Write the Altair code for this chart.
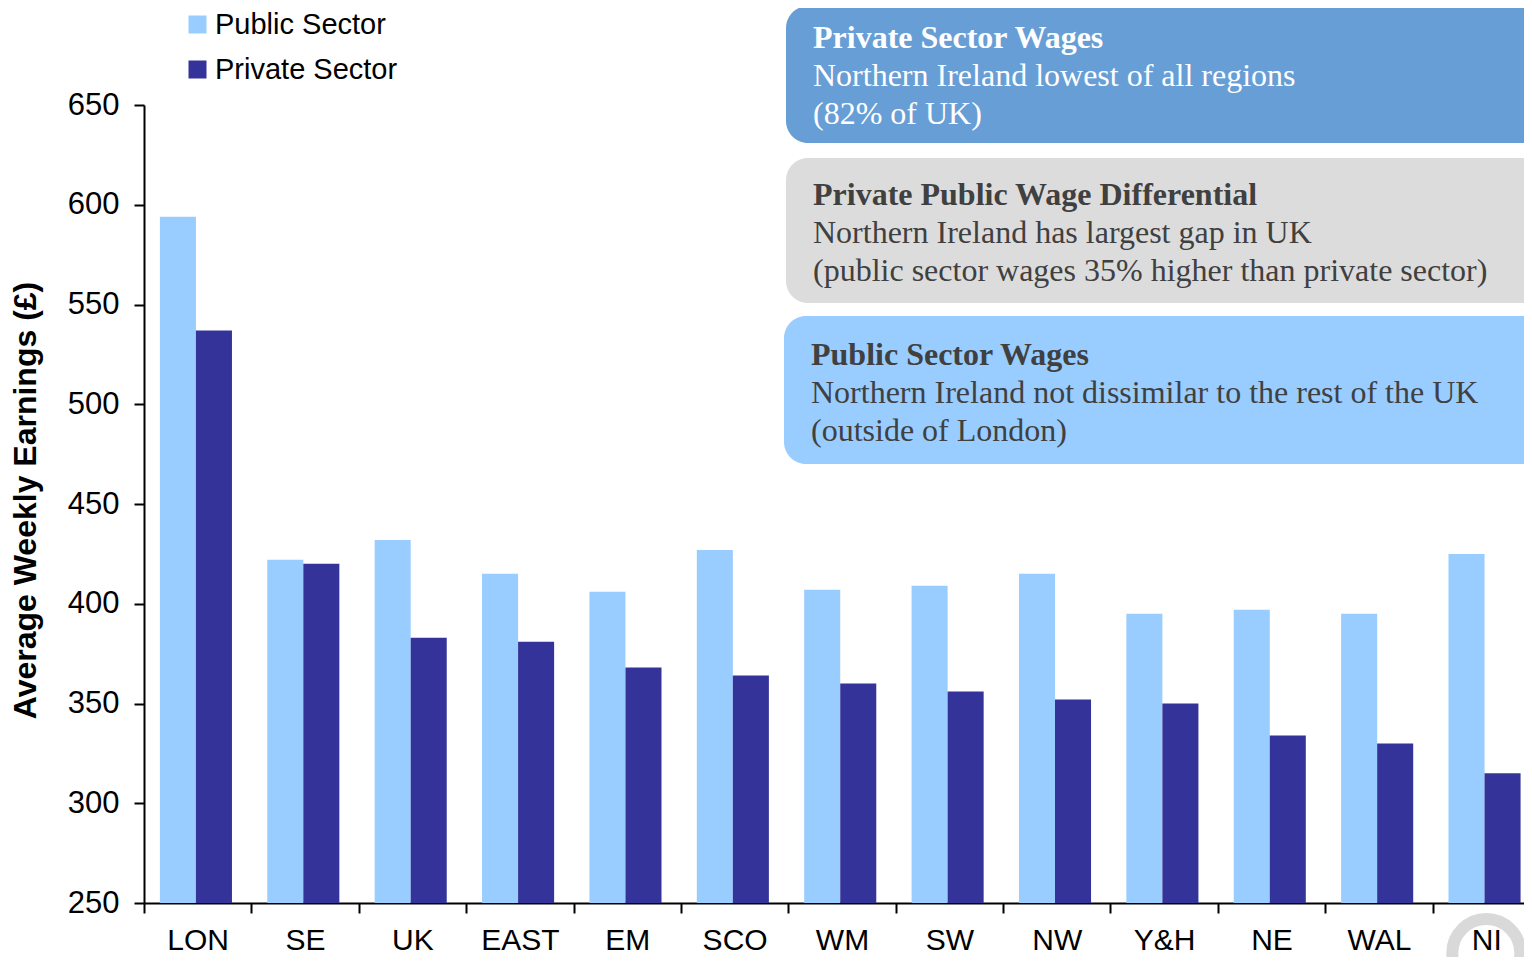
import altair as alt
import pandas as pd

# ---- data ----
regions = ["LON", "SE", "UK", "EAST", "EM", "SCO", "WM", "SW", "NW", "Y&H", "NE", "WAL", "NI"]
public_sector = [594, 422, 432, 415, 406, 427, 407, 409, 415, 395, 397, 395, 425]
private_sector = [537, 420, 383, 381, 368, 364, 360, 356, 352, 350, 334, 330, 315]
sectors = ["Public Sector", "Private Sector"]
sector_colors = ["#99CCFF", "#333399"]
y_ticks = [250, 300, 350, 400, 450, 500, 550, 600, 650]
y_min, y_max = 250, 650

box1_lines = ["Private Sector Wages",
              "Northern Ireland lowest of all regions",
              "(82% of UK)"]
box2_lines = ["Private Public Wage Differential",
              "Northern Ireland has largest gap in UK",
              "(public sector wages 35% higher than private sector)"]
box3_lines = ["Public Sector Wages",
              "Northern Ireland not dissimilar to the rest of the UK",
              "(outside of London)"]
highlight_region = ["NI"]

rows = []
for r, pu, pr in zip(regions, public_sector, private_sector):
    rows.append({"region": r, "sector": sectors[0], "earnings": pu})
    rows.append({"region": r, "sector": sectors[1], "earnings": pr})
df = pd.DataFrame(rows)

W, H = 1380, 798          # visible plot area (page is cut at the right, like the reference)
XRANGE = 1396             # full band range (the last band runs past the page edge)
SANS = "Liberation Sans"
SERIF = "Liberation Serif"

xscale = alt.Scale(domain=regions, paddingInner=0, paddingOuter=0, range=[0, XRANGE])

bars = alt.Chart(df).mark_bar().encode(
    x=alt.X("region:N", sort=regions, scale=xscale,
            axis=alt.Axis(title=None, labelAngle=0, labelFontSize=30, labelFont=SANS,
                          labelColor="black", tickBand="extent", tickSize=10, tickWidth=2,
                          tickColor="black", domainColor="black", domainWidth=2,
                          labelPadding=12, grid=False)),
    xOffset=alt.XOffset("sector:N", sort=sectors,
                        scale=alt.Scale(domain=sectors, paddingInner=0, paddingOuter=0.49,
                                        align=0.45)),
    y=alt.Y("earnings:Q", scale=alt.Scale(domain=[y_min, y_max], zero=False, nice=False),
            axis=alt.Axis(values=y_ticks, title="Average Weekly Earnings (£)",
                          labelFontSize=31, labelFont=SANS, labelColor="black",
                          labelPadding=15, tickSize=10, tickWidth=2, tickColor="black",
                          domainColor="black", domainWidth=2, grid=False,
                          titleFont=SANS, titleFontSize=32, titleFontWeight="bold",
                          titleColor="black", titleX=-119, titleY=H / 2 - 4,
                          titleAngle=270, titleAlign="center", titleBaseline="middle")),
    y2=alt.datum(y_min),
    color=alt.Color("sector:N", sort=sectors,
                    scale=alt.Scale(domain=sectors, range=sector_colors),
                    legend=alt.Legend(title=None, orient="none", legendX=39, legendY=-95,
                                      direction="vertical", symbolType="square",
                                      symbolSize=324, symbolStrokeWidth=0,
                                      labelFontSize=29, labelFont=SANS, labelColor="black",
                                      labelLimit=400, rowPadding=15, labelOffset=3,
                                      padding=0)),
)

ring = alt.Chart(pd.DataFrame({"region": highlight_region})).mark_point(
    shape="circle", filled=False, size=4624, strokeWidth=12, color="#D9D9D9", opacity=1
).encode(
    x=alt.X("region:N", sort=regions, scale=xscale),
    y=alt.value(H + 50),
)


def box(lines, x0, y0, y1, fill, color, tx, ty):
    layers = [alt.Chart(pd.DataFrame({"k": [0]})).mark_rect(
        fill=fill, cornerRadius=22
    ).encode(x=alt.value(x0), x2=alt.value(W + 80), y=alt.value(y0), y2=alt.value(y1))]
    for i, line in enumerate(lines):
        layers.append(alt.Chart(pd.DataFrame({"t": [line]})).mark_text(
            font=SERIF, fontSize=32, fontWeight="bold" if i == 0 else "normal",
            color=color, align="left", baseline="alphabetic"
        ).encode(text="t:N", x=alt.value(tx), y=alt.value(ty + 38 * i)))
    return layers


annot = []
annot += box(box1_lines, 642, -99, 38, "#689ED6", "#FFFFFF", 669, -57)
annot += box(box2_lines, 642, 53, 198, "#DCDCDC", "#404040", 669, 100)
annot += box(box3_lines, 640, 211, 359, "#99CCFF", "#404040", 667, 260)

chart = alt.layer(bars, ring, *annot).properties(
    width=W, height=H,
    autosize=alt.AutoSizeParams(type="none"),
    padding={"left": 136, "top": 97, "right": 0, "bottom": 54},
).configure(font=SANS, view=alt.ViewConfig(stroke=None))

chart.save("out.html", embed_options={"renderer": "svg", "actions": False})
